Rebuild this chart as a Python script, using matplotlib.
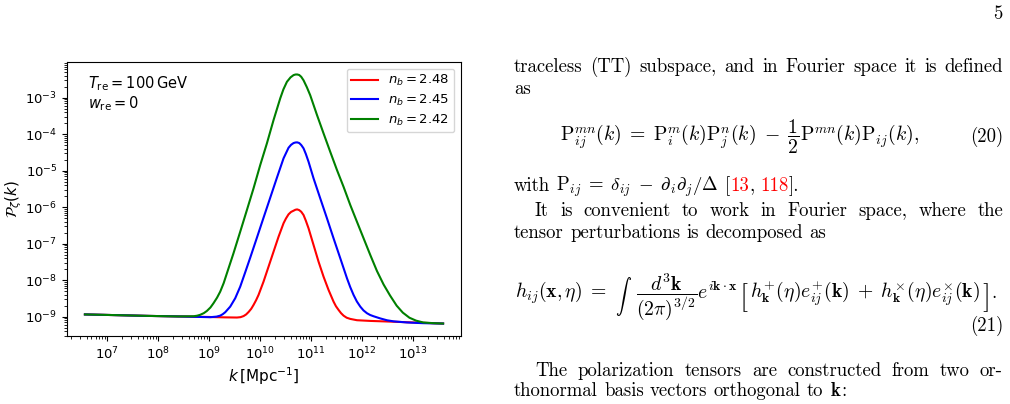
import numpy as np
import matplotlib
matplotlib.use("Agg")
import matplotlib.pyplot as plt
from matplotlib.ticker import LogLocator, NullFormatter, FixedLocator
from matplotlib.transforms import IdentityTransform

# ---------------- data (log10 values) ----------------
logk_red = [6.57, 7.2, 7.8, 8.4, 9.0, 9.3, 9.55, 9.62, 9.68, 9.73, 9.78, 9.83, 9.875,
            9.925, 9.973, 10.071, 10.169, 10.267, 10.365, 10.463, 10.51, 10.561,
            10.61, 10.659, 10.695, 10.73, 10.77, 10.81, 10.855, 10.90, 10.953,
            11.051, 11.149, 11.247, 11.345, 11.443, 11.49, 11.541, 11.59, 11.639,
            11.7, 11.771, 11.902, 12.163, 12.555, 13.0, 13.59]
logP_red = [-8.94, -8.96, -8.98, -8.995, -9.01, -9.02, -9.025, -9.015, -8.985, -8.94,
            -8.87, -8.785, -8.68, -8.55, -8.405, -8.04, -7.63, -7.22, -6.81, -6.44,
            -6.31, -6.195, -6.13, -6.096, -6.07, -6.06, -6.08, -6.125, -6.214,
            -6.37, -6.578, -7.036, -7.493, -7.904, -8.268, -8.589, -8.715, -8.816,
            -8.905, -8.973, -9.03, -9.063, -9.099, -9.118, -9.137, -9.16, -9.19]

logk_blue = [6.57, 7.2, 7.8, 8.4, 9.025, 9.15, 9.222, 9.27, 9.32, 9.418, 9.516,
             9.614, 9.712, 9.81, 9.941, 10.071, 10.202, 10.333, 10.463, 10.561,
             10.61, 10.659, 10.695, 10.73, 10.77, 10.81, 10.855, 10.90, 10.953,
             11.051, 11.182, 11.314, 11.443, 11.575, 11.706, 11.77, 11.835, 11.9,
             11.967, 12.03, 12.098, 12.16, 12.227, 12.36, 12.49, 12.62, 12.88, 13.2,
             13.59]
logP_blue = [-8.94, -8.96, -8.98, -8.995, -9.016, -9.0, -8.973, -8.935, -8.88,
             -8.726, -8.496, -8.178, -7.784, -7.384, -6.836, -6.288, -5.74, -5.192,
             -4.66, -4.37, -4.29, -4.241, -4.226, -4.222, -4.24, -4.295, -4.386,
             -4.54, -4.753, -5.208, -5.756, -6.304, -6.852, -7.4, -7.948, -8.19,
             -8.405, -8.585, -8.726, -8.83, -8.907, -8.955, -8.99, -9.05, -9.10,
             -9.13, -9.16, -9.18, -9.19]

logk_green = [6.57, 7.2, 7.8, 8.4, 8.7, 8.77, 8.83, 8.9, 8.961, 9.03, 9.09, 9.16,
              9.222, 9.29, 9.353, 9.482, 9.614, 9.745, 9.875, 10.006, 10.137, 10.267,
              10.398, 10.46, 10.529, 10.6, 10.659, 10.695, 10.73, 10.77, 10.81,
              10.855, 10.92, 10.986, 11.118, 11.247, 11.378, 11.51, 11.639, 11.771,
              11.902, 12.031, 12.163, 12.294, 12.424, 12.55, 12.68, 12.80, 12.93,
              13.06, 13.2, 13.4, 13.59]
logP_green = [-8.94, -8.96, -8.98, -8.995, -8.99, -8.975, -8.95, -8.905, -8.844,
              -8.75, -8.633, -8.48, -8.315, -8.08, -7.811, -7.263, -6.671, -6.077,
              -5.482, -4.844, -4.249, -3.611, -3.016, -2.77, -2.562, -2.44, -2.378,
              -2.362, -2.36, -2.375, -2.425, -2.52, -2.71, -2.93, -3.47, -3.975,
              -4.48, -4.98, -5.44, -5.94, -6.40, -6.85, -7.31, -7.75, -8.12, -8.42,
              -8.70, -8.89, -9.03, -9.11, -9.16, -9.18, -9.19]

series_labels = [r"$n_b = 2.48$", r"$n_b = 2.45$", r"$n_b = 2.42$"]
series_colors = ["red", "blue", "green"]

# decades that carry tick labels
xtick_decades = [7, 8, 9, 10, 11, 12, 13]
ytick_decades = [-9, -8, -7, -6, -5, -4, -3]

W, H = 1010, 404
fig = plt.figure(figsize=(W / 100, H / 100), dpi=100)
fig.patch.set_facecolor("white")

# ---------------- chart ----------------
ax = fig.add_axes([67 / W, 1 - 336 / H, 394 / W, 274 / H])
for lk, lp, c, lab in zip([logk_red, logk_blue, logk_green],
                          [logP_red, logP_blue, logP_green],
                          series_colors, series_labels):
    ax.plot(10 ** np.array(lk), 10 ** np.array(lp), color=c, lw=1.5, label=lab)

ax.set_xscale("log")
ax.set_yscale("log")
ax.xaxis.set_major_locator(FixedLocator(10.0 ** np.array(xtick_decades)))
ax.yaxis.set_major_locator(FixedLocator(10.0 ** np.array(ytick_decades)))
for axis in (ax.xaxis, ax.yaxis):
    axis.set_minor_locator(LogLocator(base=10, subs=np.arange(2, 10), numticks=300))
    axis.set_minor_formatter(NullFormatter())
ax.tick_params(axis="both", which="major", labelsize=9.5)
ax.set_xlabel(r"$k\,[\mathrm{Mpc}^{-1}]$", fontsize=11, labelpad=2)
ax.set_ylabel(r"$\mathcal{P}_\zeta(k)$", fontsize=11, labelpad=1)
ax.text(0.053, 0.955, r"$T_{\rm re} = 100\,{\rm GeV}$" + "\n" + r"$w_{\rm re} = 0$",
        transform=ax.transAxes, fontsize=10.5, va="top", ha="left", linespacing=1.1)
ax.legend(loc="upper right", fontsize=9.5, labelspacing=0.35, borderpad=0.35)

# ---------------- page text ----------------
TXT = ["cmr10", "DejaVu Serif"]
FS = 13.5
EQ = 14.2
renderer = fig.canvas.get_renderer()


def mk(s, color="black", size=FS):
    return fig.text(0, 0, s, transform=IdentityTransform(), fontsize=size,
                    family=TXT, color=color, math_fontfamily="cm",
                    ha="left", va="baseline")


def width(s, size=FS):
    t = mk(s, size=size)
    w = t.get_window_extent(renderer).width
    t.remove()
    return w


SPACE = width("a a") - width("aa")


def draw_line(tokens, x0, y, x1=None, size=FS):
    """tokens: list of str or list of segments (text, colour[, size, dy, dx])."""
    items = []
    for tok in tokens:
        segs = [(tok, "black")] if isinstance(tok, str) else tok
        arts = []
        for seg in segs:
            s, c = seg[0], seg[1]
            sz = seg[2] if len(seg) > 2 else size
            a = mk(s, c, sz)
            a._dy = seg[3] if len(seg) > 3 else 0
            a._dx = seg[4] if len(seg) > 4 else 0
            arts.append(a)
        items.append(arts)
    ws = [[a.get_window_extent(renderer).width + a._dx for a in arts] for arts in items]
    tot = sum(sum(w) for w in ws)
    n = len(items)
    gap = (x1 - x0 - tot) / (n - 1) if (x1 is not None and n > 1) else SPACE
    x = x0
    for arts, wl in zip(items, ws):
        for a, w in zip(arts, wl):
            a.set_position((x + a._dx, H - y - a._dy))
            x += w
        x += gap


def line(s, x0, y, x1=None):
    draw_line(s.split(" "), x0, y, x1)


def plain(x, y, s, ha="left"):
    fig.text(x, H - y, s, transform=IdentityTransform(), fontsize=FS,
             family=TXT, ha=ha, va="baseline")


# page number
plain(1003, 19, "5", ha="right")

line("traceless (TT) subspace, and in Fourier space it is defined", 514, 72, 1003)
line("as", 514, 94)

eq20 = (r"$\mathrm{P}^{mn}_{ij}(k)\;=\;\mathrm{P}^{m}_{i}(k)\mathrm{P}^{n}_{j}(k)"
        r"\;-\;\dfrac{1}{2}\mathrm{P}^{mn}(k)\mathrm{P}_{ij}(k),$")
draw_line([[(eq20, "black", EQ)]], 560, 142)
plain(1003, 142, "(20)", ha="right")

draw_line(["with",
           r"$\mathrm{P}_{ij}\;=\;\delta_{ij}\;-\;\partial_i\partial_j/\Delta$",
           [("[", "black"), ("13", "red"), (",", "black")],
           [("118", "red"), ("].", "black")]], 514, 191)

line("It is convenient to work in Fourier space, where the", 535, 216, 1003)
line("tensor perturbations is decomposed as", 514, 238)

eq21 = [(r"$h_{ij}(\mathbf{x},\eta)\;=$", "black", EQ),
        (r"$\int$", "black", FS * 0.85, 4, 8),
        (r"$\dfrac{d^3\mathbf{k}}{(2\pi)^{3/2}}e^{i\mathbf{k}\cdot\mathbf{x}}$",
         "black", EQ, 0, 4),
        ("[", "black", 21, 7, 2),
        (r"$h^{+}_{\mathbf{k}}(\eta)e^{+}_{ij}(\mathbf{k})\;+\;"
         r"h^{\times}_{\mathbf{k}}(\eta)e^{\times}_{ij}(\mathbf{k})$", "black", EQ, 0, 2),
        ("]", "black", 21, 7, 2),
        (".", "black", FS, 0, 1)]
draw_line([eq21], 515, 298)
plain(1003, 331, "(21)", ha="right")

line("The polarization tensors are constructed from two or-", 535, 376, 1003)
draw_line(["thonormal", "basis", "vectors", "orthogonal", "to",
           [(r"$\mathbf{k}$", "black"), (":", "black")]], 514, 396)

fig.savefig("out.png", dpi=100, facecolor="white")
